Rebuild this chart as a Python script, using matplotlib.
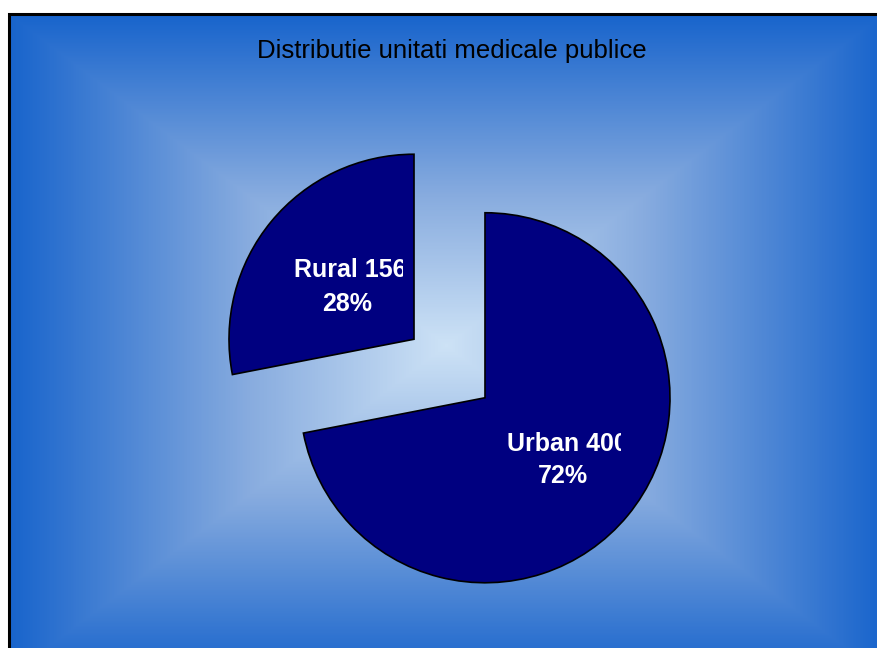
import numpy as np
import matplotlib
matplotlib.use("Agg")
import matplotlib.pyplot as plt
from matplotlib.patches import Rectangle
from matplotlib.colors import LinearSegmentedColormap
from matplotlib.transforms import Bbox, TransformedBbox

# ---- data ----
title = "Distributie unitati medicale publice"
categories = ["Urban", "Rural"]
values = [400, 156]

W, H = 878, 648
fig = plt.figure(figsize=(W / 100, H / 100), dpi=100)
fig.patch.set_facecolor("white")
ax = fig.add_axes([0, 0, 1, 1])
ax.set_xlim(0, W)
ax.set_ylim(0, H)
ax.axis("off")

# ---- background: rectangular "from centre" gradient inside a framed area ----
fx0, fy0 = 9, 14          # frame top-left in pixel coords (y from top)
cx, cy = 446, 345         # gradient centre (pixels, y from top)
hw, hh = 437, 331
yy, xx = np.mgrid[0:H, 0:W]
t = np.maximum(np.abs(xx - cx) / hw, np.abs(yy - cy) / hh)
t = np.clip(t, 0, 1)
cmap = LinearSegmentedColormap.from_list(
    "g", [(0.0, "#cde2f6"), (0.45, "#88acdf"), (1.0, "#1864cc")])
img = cmap(t)
img[:fy0, :, :] = 1.0
img[:, :fx0, :] = 1.0
ax.imshow(img, extent=(0, W, 0, H), origin="upper", interpolation="bilinear",
          zorder=0, aspect="auto")
ax.add_patch(Rectangle((fx0, -10), W + 20, H - fy0 + 10, fill=False,
                       edgecolor="black", linewidth=2.2, zorder=1))

# ---- pie ----
wedges, _ = ax.pie(values, startangle=90, counterclock=False,
                   colors=["#000080", "#000080"],
                   explode=[46, 46], radius=185, center=(449.5, H - 368.5),
                   wedgeprops=dict(edgecolor="black", linewidth=1.2),
                   frame=True)
ax.set_xlim(0, W)
ax.set_ylim(0, H)
ax.set_aspect("auto")
ax.axis("off")
for w in wedges:
    w.set_zorder(2)

total = sum(values)
pct = [round(100 * v / total) for v in values]

lab_font = dict(family=["Liberation Sans", "DejaVu Sans"], fontsize=18,
                fontweight="bold", color="white", zorder=3)
# label layout: (left x of line 1, centre x of line 2, baseline y1, baseline y2, clip x)
layout = {"Urban": (507, 563, 451, 483, 621),
          "Rural": (294, 347, 277, 311, 403)}
for cat, v, p in zip(categories, values, pct):
    lx, cx2, b1, b2, clipx = layout[cat]
    t1 = ax.text(lx, H - b1, f"{cat} {v}", ha="left", va="baseline", **lab_font)
    t1.set_clip_box(TransformedBbox(Bbox([[0, 0], [clipx, H]]), ax.transData))
    t1.set_clip_on(True)
    ax.text(cx2, H - b2, f"{p}%", ha="center", va="baseline", **lab_font)

ax.text(451.5, H - 58, title, ha="center", va="baseline",
        family=["Liberation Sans", "DejaVu Sans"], fontsize=18.5,
        color="black", zorder=3)

fig.savefig("out.png", dpi=100)
